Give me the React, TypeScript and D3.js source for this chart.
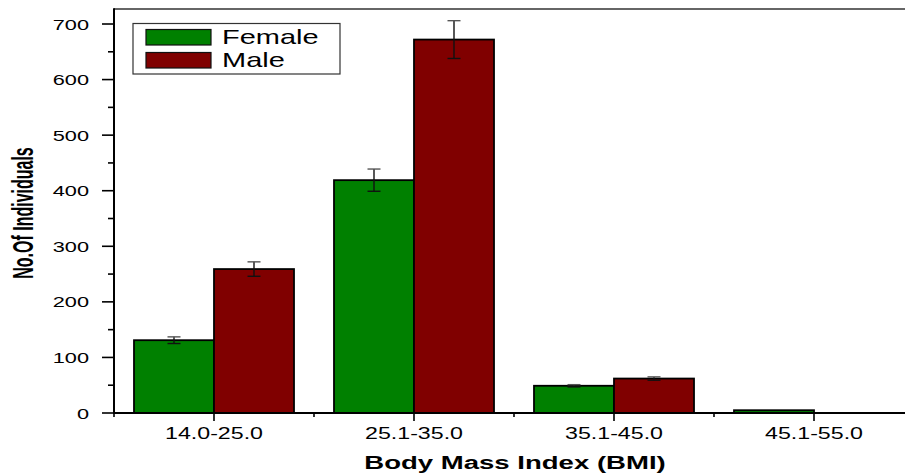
import * as d3 from 'd3'

const categories = ['14.0-25.0', '25.1-35.0', '35.1-45.0', '45.1-55.0']
const seriesNames = ['Female', 'Male']
const femaleValues = [131, 419, 49, 5]
const maleValues = [259, 672, 62, 1]
const femaleErrors = [6, 20, 2, 0]
const maleErrors = [13, 34, 3, 0]
const yTicks = [0, 100, 200, 300, 400, 500, 600, 700]
const yMinorTicks = [50, 150, 250, 350, 450, 550, 650]

const colors: Record<string, string> = { Female: '#008000', Male: '#800000' }
const FONT = '"Liberation Sans", Arial, Helvetica, sans-serif'

const W = 905
const H = 473
const left = 114
const top = 9
const bottom = 413

// stretched text: the reference has its text widened horizontally
function SText({ x, y, sx = 1.45, rotate = 0, anchor = 'start', size, bold = false, children }: {
  x: number; y: number; sx?: number; rotate?: number; anchor?: string; size: number; bold?: boolean; children: string
}) {
  return (
    <g transform={`translate(${x},${y}) scale(${sx},1) rotate(${rotate})`}>
      <text textAnchor={anchor} fontSize={size} fontWeight={bold ? 'bold' : 'normal'} fontFamily={FONT} fill="#000">
        {children}
      </text>
    </g>
  )
}

export default function App() {
  const x = d3.scaleBand<string>().domain(categories).range([left, left + 800]).padding(0)
  const xSub = d3.scaleBand<string>().domain(seriesNames).range([0, x.bandwidth()]).paddingInner(0).paddingOuter(0.25)
  const y = d3.scaleLinear().domain([0, 727]).range([bottom, top])

  const rows = categories.map((c, i) => ({
    cat: c,
    bars: [
      { name: 'Female', value: femaleValues[i], err: femaleErrors[i] },
      { name: 'Male', value: maleValues[i], err: maleErrors[i] },
    ],
  }))

  return (
    <div style={{ position: 'fixed', left: 0, top: 0 }}>
      <svg width={W} height={H} style={{ display: 'block', background: '#fff' }}>
        {/* bars */}
        {rows.map((r) => (
          <g key={r.cat} transform={`translate(${x(r.cat)},0)`}>
            {r.bars.map((b) => (
              <rect
                key={b.name}
                x={xSub(b.name)}
                y={y(b.value)}
                width={xSub.bandwidth()}
                height={bottom - y(b.value)}
                fill={colors[b.name]}
                stroke="#000"
                strokeWidth={b.value < 3 ? 0.5 : 1.8}
                strokeOpacity={b.value < 3 ? 0.3 : 1}
              />
            ))}
            {r.bars.filter((b) => b.err > 0).map((b) => {
              const cx = (xSub(b.name) ?? 0) + xSub.bandwidth() / 2
              return (
                <g key={b.name + 'e'} stroke="#111" strokeWidth={1.4}>
                  <line x1={cx} x2={cx} y1={y(b.value + b.err)} y2={y(b.value - b.err)} />
                  <line x1={cx - 6.5} x2={cx + 6.5} y1={y(b.value + b.err)} y2={y(b.value + b.err)} stroke="#555" />
                  <line x1={cx - 6.5} x2={cx + 6.5} y1={y(b.value - b.err)} y2={y(b.value - b.err)} />
                </g>
              )
            })}
          </g>
        ))}

        {/* frame top */}
        <line x1={left} x2={W} y1={top} y2={top} stroke="#333" strokeWidth={1.5} />

        {/* y axis */}
        <line x1={left} x2={left} y1={top - 0.75} y2={bottom + 1} stroke="#000" strokeWidth={2} />
        {yTicks.map((t) => (
          <g key={t}>
            <line x1={left - 12} x2={left} y1={y(t)} y2={y(t)} stroke="#000" strokeWidth={1.6} />
            <SText x={89} y={y(t) + 5.5} anchor="end" size={15}>{String(t)}</SText>
          </g>
        ))}
        {yMinorTicks.map((t) => (
          <line key={t} x1={left - 6} x2={left} y1={y(t)} y2={y(t)} stroke="#000" strokeWidth={1.6} />
        ))}

        {/* x axis */}
        <line x1={left - 1} x2={W} y1={bottom} y2={bottom} stroke="#000" strokeWidth={2} />
        {categories.map((c) => {
          const cx = (x(c) ?? 0) + x.bandwidth() / 2
          return (
            <g key={c}>
              <line x1={cx} x2={cx} y1={bottom} y2={bottom + 8} stroke="#000" strokeWidth={1.6} />
              <SText x={cx} y={439} anchor="middle" size={16}>{c}</SText>
            </g>
          )
        })}
        {categories.map((c) => (
          <line key={c + 'm'} x1={(x(c) ?? 0) + x.bandwidth()} x2={(x(c) ?? 0) + x.bandwidth()} y1={bottom} y2={bottom + 4} stroke="#000" strokeWidth={1.6} />
        ))}
        <line x1={left} x2={left} y1={bottom} y2={bottom + 4} stroke="#000" strokeWidth={1.6} />

        {/* axis titles */}
        <SText x={515} y={469} anchor="middle" size={19} bold>Body Mass Index (BMI)</SText>
        <SText x={33} y={213} anchor="middle" size={16} bold sx={1.8} rotate={-90}>No.Of Individuals</SText>

        {/* legend */}
        <rect x={133} y={23.5} width={207} height={50.5} fill="#fff" stroke="#333" strokeWidth={1.2} />
        {seriesNames.map((s, i) => (
          <g key={s}>
            <rect x={146} y={29.5 + i * 23} width={65} height={15.5} fill={colors[s]} stroke="#111" strokeWidth={1.2} />
            <SText x={222} y={44 + i * 23} size={20} sx={1.45}>{s}</SText>
          </g>
        ))}
      </svg>
    </div>
  )
}
